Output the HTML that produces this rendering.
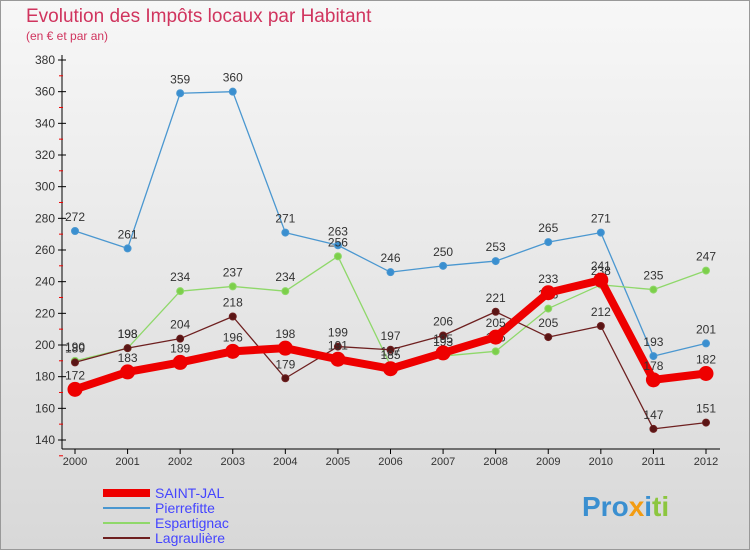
<!DOCTYPE html>
<html><head><meta charset="utf-8"><style>
body{margin:0;width:750px;height:550px;overflow:hidden;font-family:"Liberation Sans",sans-serif}
svg text{font-family:"Liberation Sans",sans-serif}
</style></head><body>
<svg id="c" width="750" height="550" xmlns="http://www.w3.org/2000/svg">
<defs><linearGradient id="bg" x1="0" y1="0" x2="0" y2="1"><stop offset="0" stop-color="#f7f7f7"/><stop offset="1" stop-color="#d8d8d8"/></linearGradient></defs>
<rect x="0.5" y="0.5" width="749" height="549" fill="url(#bg)" stroke="#999"/>
<text x="26" y="22" font-size="19" fill="#d0345e">Evolution des Impôts locaux par Habitant</text>
<text x="26" y="40" font-size="12" fill="#d0345e">(en € et par an)</text>
<g id="axes"></g><g id="series"></g><g id="legend"></g>
<text x="582" y="516" font-size="28" font-weight="bold" fill="#3a8fd0">Pro<tspan fill="#f39c12">x</tspan><tspan fill="#3a8fd0">i</tspan><tspan fill="#8cc63f">ti</tspan></text>
</svg>
<script>
const years=[2000,2001,2002,2003,2004,2005,2006,2007,2008,2009,2010,2011,2012];
const yTicks=[140,160,180,200,220,240,260,280,300,320,340,360,380];
const saintJal=[172,183,189,196,198,191,185,195,205,233,241,178,182];
const pierrefitte=[272,261,359,360,271,263,246,250,253,265,271,193,201];
const espartignac=[190,198,234,237,234,256,187,193,196,223,238,235,247];
const lagrauliere=[189,198,204,218,179,199,197,206,221,205,212,147,151];
const NS="http://www.w3.org/2000/svg";
const X=i=>75+i*(706-75)/(years.length-1);
const Y=v=>440-(v-140)*(380/240);
function mk(t,a,p){const e=document.createElementNS(NS,t);for(const k in a)e.setAttribute(k,a[k]);p.appendChild(e);return e;}
const ax=document.getElementById('axes');
const yl=mk('line',{x1:62,y1:55,x2:62,y2:449,stroke:'#000'},ax);


const xl=mk('line',{x1:62,y1:449,x2:720,y2:449,stroke:'#000'},ax);


yTicks.forEach(v=>{const y=Y(v);mk('line',{x1:58,y1:y,x2:66,y2:y,stroke:'#000'},ax);
mk('line',{x1:59,y1:y+15.8,x2:63,y2:y+15.8,stroke:'#e00'},ax);
const t=mk('text',{x:55,y:y+4,'font-size':12,'text-anchor':'end',fill:'#333'},ax);t.textContent=v;

});
years.forEach((yr,i)=>{const x=X(i);mk('line',{x1:x,y1:449,x2:x,y2:454,stroke:'#000'},ax);
const t=mk('text',{x:x,y:465,'font-size':11,'text-anchor':'middle',fill:'#333'},ax);t.textContent=yr;

});
const sg=document.getElementById('series');
function draw(data,color,dot,w,r,name){const g=mk('g',{},sg);


mk('polyline',{points:data.map((v,i)=>X(i)+','+Y(v)).join(' '),fill:'none',stroke:color,'stroke-width':w,'stroke-linejoin':'round'},g);
data.forEach((v,i)=>{const c=mk('circle',{cx:X(i),cy:Y(v),r:r,fill:dot,stroke:color,'stroke-width':1},g);


const t=mk('text',{x:X(i),y:Y(v)-10,'font-size':12,'text-anchor':'middle',fill:'#333'},g);t.textContent=v;

});}
draw(pierrefitte,'#4a97d0','#3a8fd0',1.3,3.5,'pierrefitte-series');
draw(espartignac,'#8fd86a','#7ccf4a',1.3,3.5,'espartignac-series');
draw(lagrauliere,'#6e2020','#5a1515',1.3,3.5,'lagrauliere-series');
draw(saintJal,'#ee0000','#ee0000',8,7,'saint-jal-series');
const lg=document.getElementById('legend');
[['SAINT-JAL','#ee0000',8],['Pierrefitte','#4a97d0',2],['Espartignac','#8fd86a',2],['Lagraulière','#6e2020',2]].forEach((s,i)=>{
const y=493+i*15;const g=mk('g',{},lg);


mk('line',{x1:103,y1:y,x2:150,y2:y,stroke:s[1],'stroke-width':s[2]},g);
const t=mk('text',{x:155,y:y+5,'font-size':14,fill:'#4444ff'},g);t.textContent=s[0];});
</script>
</body></html>
